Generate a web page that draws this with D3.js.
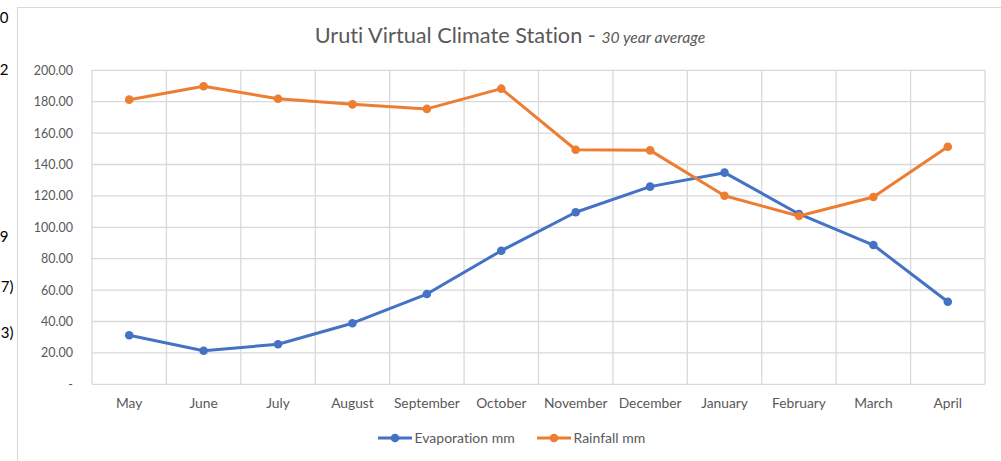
<!DOCTYPE html>
<html>
<head>
<meta charset="utf-8">
<script src="https://cdn.jsdelivr.net/npm/d3@7"></script>
<style>
  body { margin: 0; background: #fff; }
  svg { display: block; font-family: Lato, "Open Sans", sans-serif; font-variant-ligatures: none; }
</style>
</head>
<body>
<script>
// monthly values, 30 year average
var months = ["May", "June", "July", "August", "September", "October",
    "November", "December", "January", "February", "March", "April"];
var evaporation = [31.2, 21.4, 25.5, 38.9, 57.5, 85.1, 109.6, 125.9, 134.8, 108.5, 88.7, 52.6];
var rainfall = [181.3, 189.8, 181.9, 178.3, 175.4, 188.3, 149.4, 149.0, 120.1, 107.2, 119.3, 151.3];
var yTicks = [0, 20, 40, 60, 80, 100, 120, 140, 160, 180, 200];
var seriesNames = ["Evaporation mm", "Rainfall mm"];
var seriesColors = ["#4472C4", "#ED7D31"];
// bits of neighbouring spreadsheet cells showing at the left edge
var strayCells = [{t: "0", y: 18, x: 8.5}, {t: "2", y: 70, x: 8.5}, {t: "9", y: 237, x: 8.5},
    {t: "7)", y: 287, x: 13.5}, {t: "3)", y: 333, x: 13.5}];

var W = 1001, H = 461;
var plot = {left: 92, right: 985, top: 70.3, bottom: 384.3};

var svg = d3.select("body").append("svg")
    .attr("width", W)
    .attr("height", H);

// chart frame
svg.append("rect")
    .attr("x", 17.5).attr("y", 7.5)
    .attr("width", 1010).attr("height", 470)
    .attr("fill", "#fff")
    .attr("stroke", "#d9d9d9");

svg.selectAll(".stray")
    .data(strayCells)
    .enter().append("text")
    .attr("class", "stray")
    .attr("x", d => d.x)
    .attr("y", d => d.y)
    .attr("dy", "0.35em")
    .attr("text-anchor", "end")
    .attr("font-family", "Lato, sans-serif")
    .attr("font-size", "15px")
    .attr("fill", "#000")
    .text(d => d.t);

var x = d3.scaleBand()
    .domain(months)
    .range([plot.left, plot.right])
    .padding(0);

var y = d3.scaleLinear()
    .domain([0, 200])
    .range([plot.bottom, plot.top]);

// horizontal gridlines
svg.append("g")
    .selectAll("line")
    .data(yTicks)
    .enter().append("line")
    .attr("x1", plot.left).attr("x2", plot.right)
    .attr("y1", d => y(d)).attr("y2", d => y(d))
    .attr("stroke", "#d9d9d9")
    .attr("stroke-width", 1.3);

// vertical gridlines at category boundaries
var bounds = months.map(m => x(m)).concat([plot.right]);
svg.append("g")
    .selectAll("line")
    .data(bounds)
    .enter().append("line")
    .attr("x1", d => d).attr("x2", d => d)
    .attr("y1", plot.top).attr("y2", plot.bottom)
    .attr("stroke", "#d9d9d9")
    .attr("stroke-width", 1.3);

// y axis labels
var yAxis = d3.axisLeft(y)
    .tickValues(yTicks)
    .tickSize(0)
    .tickPadding(19)
    .tickFormat(d => d === 0 ? "-" : d3.format(".2f")(d));

var gy = svg.append("g")
    .attr("transform", "translate(" + plot.left + ",0)")
    .call(yAxis);
gy.select(".domain").remove();
gy.selectAll("text")
    .attr("font-family", "Lato, sans-serif")
    .attr("font-size", "12.5px")
    .attr("fill", "#595959");

// x axis labels
var xAxis = d3.axisBottom(x)
    .tickSize(0)
    .tickPadding(14);

var gx = svg.append("g")
    .attr("transform", "translate(0," + plot.bottom + ")")
    .call(xAxis);
gx.select(".domain").remove();
gx.selectAll("text")
    .attr("font-family", "Lato, sans-serif")
    .attr("font-size", "13.8px")
    .attr("fill", "#595959");

// lines and markers
var line = d3.line()
    .x((d, i) => x(months[i]) + x.bandwidth() / 2)
    .y(d => y(d));

[evaporation, rainfall].forEach((vals, s) => {
    svg.append("path")
        .datum(vals)
        .attr("fill", "none")
        .attr("stroke", seriesColors[s])
        .attr("stroke-width", 3)
        .attr("stroke-linejoin", "round")
        .attr("d", line);

    svg.append("g")
        .selectAll("circle")
        .data(vals)
        .enter().append("circle")
        .attr("cx", (d, i) => x(months[i]) + x.bandwidth() / 2)
        .attr("cy", d => y(d))
        .attr("r", 4.3)
        .attr("fill", seriesColors[s]);
});

// title
var title = svg.append("text")
    .attr("x", 510)
    .attr("y", 43)
    .attr("text-anchor", "middle")
    .attr("fill", "#595959")
    .attr("font-family", "Lato, sans-serif");
title.append("tspan")
    .attr("font-size", "21.7px")
    .text("Uruti Virtual Climate Station - ");
title.append("tspan")
    .attr("font-size", "15.7px")
    .attr("font-style", "italic")
    .text("30 year average");

// legend
var legendX = [378, 537];
seriesNames.forEach((name, s) => {
    var g = svg.append("g")
        .attr("transform", "translate(" + legendX[s] + ",438)");
    g.append("line")
        .attr("x1", 0).attr("x2", 34)
        .attr("stroke", seriesColors[s])
        .attr("stroke-width", 3);
    g.append("circle")
        .attr("cx", 17)
        .attr("r", 4.3)
        .attr("fill", seriesColors[s]);
    g.append("text")
        .attr("x", 36.5)
        .attr("dy", "0.35em")
        .attr("font-family", "Lato, sans-serif")
        .attr("font-size", "14px")
        .attr("fill", "#595959")
        .text(name);
});
</script>
</body>
</html>
